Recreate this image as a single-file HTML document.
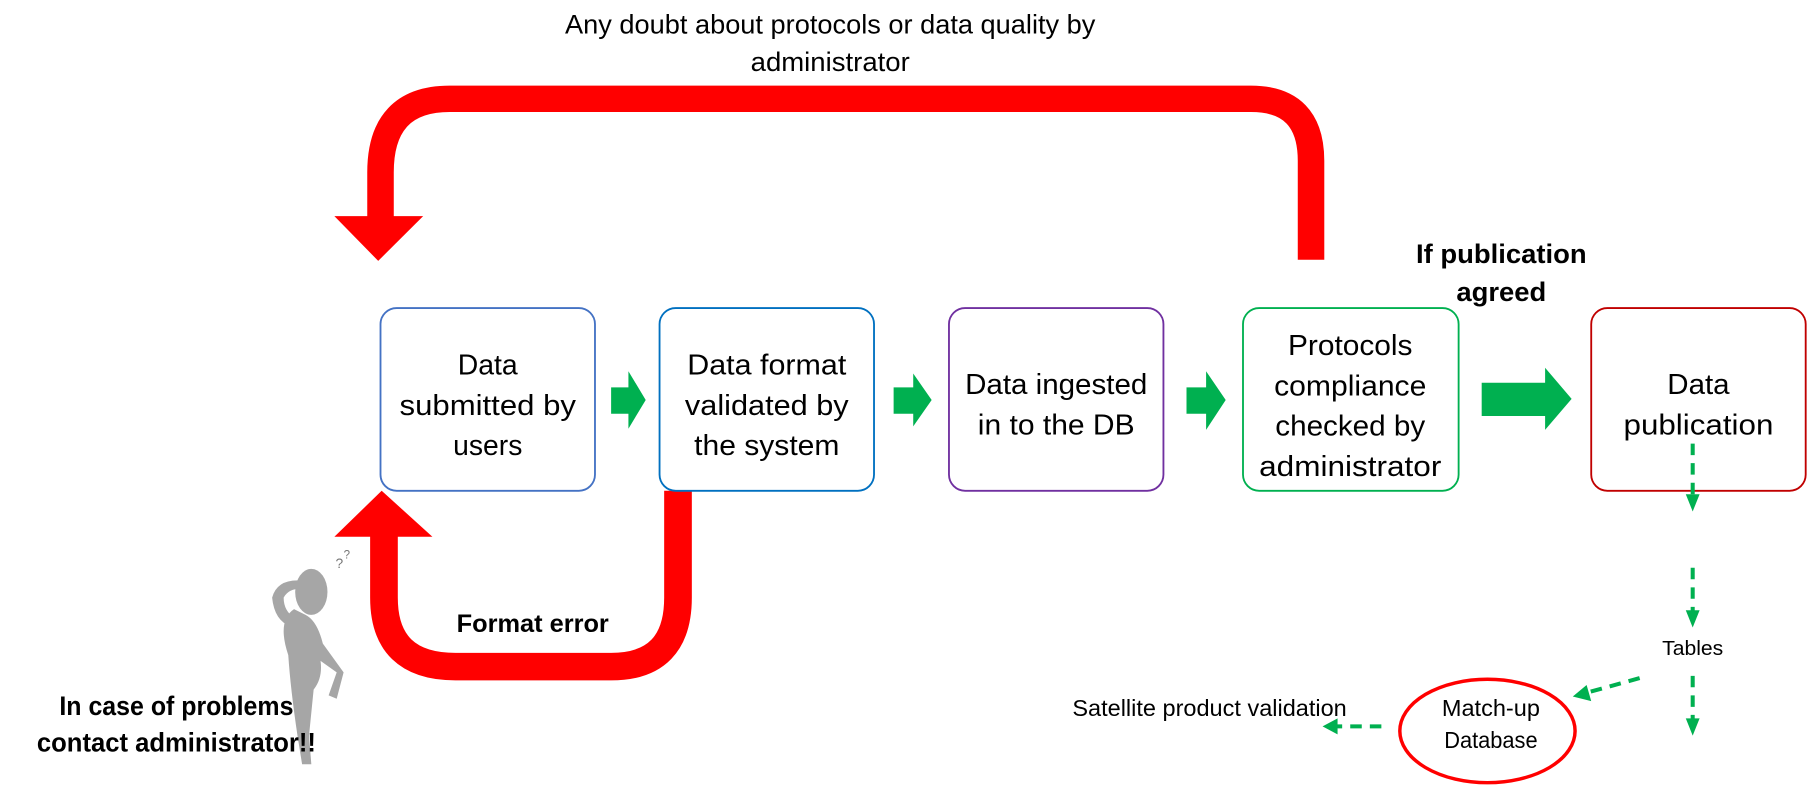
<!DOCTYPE html>
<html><head><meta charset="utf-8"><style>html,body{margin:0;padding:0;background:#fff;overflow:hidden}</style></head>
<body>
<svg width="1808" height="785" viewBox="0 0 1568 683" preserveAspectRatio="none" xmlns="http://www.w3.org/2000/svg" font-family="Liberation Sans, sans-serif">
<text x="720" y="29" font-size="23" text-anchor="middle" textLength="460" lengthAdjust="spacingAndGlyphs">Any doubt about protocols or data quality by</text>
<text x="720" y="62" font-size="23" text-anchor="middle" textLength="138" lengthAdjust="spacingAndGlyphs">administrator</text>
<path d="M1137,226 L1137,140 Q1137,86 1085,86 L390,86 Q330,86 330,150 L330,190" fill="none" stroke="#FF0000" stroke-width="23"/>
<polygon points="290,188 367,188 328,227" fill="#FF0000"/>
<path d="M588,427 L588,520 Q588,580 530,580 L395,580 Q333,580 333,520 L333,466" fill="none" stroke="#FF0000" stroke-width="24"/>
<polygon points="290,467 375,467 331,427" fill="#FF0000"/>
<text x="462" y="550" font-size="22" font-weight="bold" text-anchor="middle" textLength="132" lengthAdjust="spacingAndGlyphs">Format error</text>
<g fill="#fff" stroke-width="1.6">
<rect x="330" y="268" width="186" height="159" rx="14" stroke="#4472C4"/>
<rect x="572" y="268" width="186" height="159" rx="14" stroke="#0070C0"/>
<rect x="823" y="268" width="186" height="159" rx="14" stroke="#7030A0"/>
<rect x="1078" y="268" width="187" height="159" rx="14" stroke="#00B050"/>
<rect x="1380" y="268" width="186" height="159" rx="14" stroke="#C00000"/>
</g>
<g font-size="25" text-anchor="middle" lengthAdjust="spacingAndGlyphs">
<text x="423" y="326" textLength="52" lengthAdjust="spacingAndGlyphs">Data</text><text x="423" y="361" textLength="153" lengthAdjust="spacingAndGlyphs">submitted by</text><text x="423" y="396" textLength="60" lengthAdjust="spacingAndGlyphs">users</text>
<text x="665" y="326" textLength="138" lengthAdjust="spacingAndGlyphs">Data format</text><text x="665" y="361" textLength="142" lengthAdjust="spacingAndGlyphs">validated by</text><text x="665" y="396" textLength="126" lengthAdjust="spacingAndGlyphs">the system</text>
<text x="916" y="343" textLength="158" lengthAdjust="spacingAndGlyphs">Data ingested</text><text x="916" y="378" textLength="136" lengthAdjust="spacingAndGlyphs">in to the DB</text>
<text x="1171" y="309" textLength="108" lengthAdjust="spacingAndGlyphs">Protocols</text><text x="1171" y="344" textLength="132" lengthAdjust="spacingAndGlyphs">compliance</text><text x="1171" y="379" textLength="130" lengthAdjust="spacingAndGlyphs">checked by</text><text x="1171" y="414" textLength="158" lengthAdjust="spacingAndGlyphs">administrator</text>
<text x="1473" y="343" textLength="54" lengthAdjust="spacingAndGlyphs">Data</text><text x="1473" y="378" textLength="130" lengthAdjust="spacingAndGlyphs">publication</text>
</g>
<text x="1302" y="229" font-size="23" font-weight="bold" text-anchor="middle" textLength="148" lengthAdjust="spacingAndGlyphs">If publication</text>
<text x="1302" y="262" font-size="23" font-weight="bold" text-anchor="middle" textLength="78" lengthAdjust="spacingAndGlyphs">agreed</text>
<g fill="#00B050">
<polygon points="530,337 545,337 545,323 560,348 545,373 545,360 530,360"/>
<polygon points="775,337 792,337 792,325 808,348 792,371 792,360 775,360"/>
<polygon points="1029,337 1046,337 1046,323 1063,348 1046,374 1046,360 1029,360"/>
<polygon points="1285,333 1340,333 1340,320 1363,347 1340,374 1340,362 1285,362"/>
</g>
<g stroke="#00B050" stroke-width="3.5" stroke-dasharray="10,7" fill="none">
<line x1="1468" y1="386" x2="1468" y2="432"/>
<line x1="1468" y1="494" x2="1468" y2="533"/>
<line x1="1468" y1="588" x2="1468" y2="627"/>
<line x1="1422" y1="590" x2="1375" y2="603"/>
<line x1="1198" y1="632" x2="1158" y2="632"/>
</g>
<g fill="#00B050">
<polygon points="1462,430 1474,430 1468,445"/>
<polygon points="1462,531 1474,531 1468,546"/>
<polygon points="1462,625 1474,625 1468,640"/>
<polygon points="1376,596 1380,610 1364,606"/>
<polygon points="1160,625 1160,639 1147,632"/>
</g>
<text x="1468" y="570" font-size="18" text-anchor="middle" textLength="53" lengthAdjust="spacingAndGlyphs">Tables</text>
<ellipse cx="1290" cy="636" rx="76" ry="45" fill="#fff" stroke="#FF0000" stroke-width="3"/>
<text x="1293" y="623" font-size="20" text-anchor="middle" textLength="85" lengthAdjust="spacingAndGlyphs">Match-up</text>
<text x="1293" y="651" font-size="20" text-anchor="middle" textLength="81" lengthAdjust="spacingAndGlyphs">Database</text>
<text x="1049" y="623" font-size="20" text-anchor="middle" textLength="238" lengthAdjust="spacingAndGlyphs">Satellite product validation</text>
<g fill="#A6A6A6">
<ellipse cx="270" cy="515" rx="14" ry="20"/>
<path d="M255,530 Q240,540 250,570 Q252,600 258,640 L262,665 L270,665 L268,640 L272,600 Q280,590 278,575 L292,585 L285,605 L292,608 L298,585 L280,560 Q275,540 265,535 Z"/>
<path d="M258,505 Q240,505 236,520 Q238,540 252,545 L256,538 Q246,532 246,520 Q250,512 262,512 Z"/>
</g>
<text x="291" y="494" font-size="12" fill="#777">?</text>
<text x="298" y="486" font-size="10" fill="#777">?</text>
<text x="153" y="622" font-size="23" font-weight="bold" text-anchor="middle" textLength="203" lengthAdjust="spacingAndGlyphs">In case of problems</text>
<text x="153" y="654" font-size="23" font-weight="bold" text-anchor="middle" textLength="242" lengthAdjust="spacingAndGlyphs">contact administrator!!</text>
</svg>
</body></html>
